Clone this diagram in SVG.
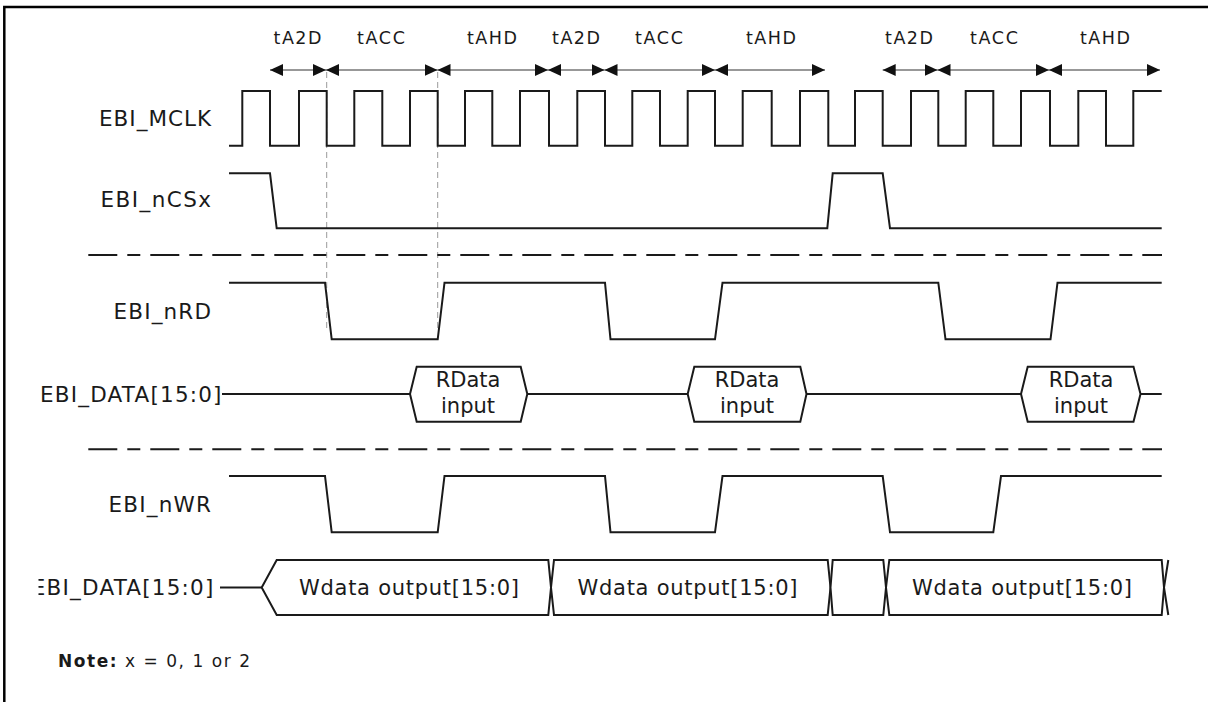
<svg xmlns="http://www.w3.org/2000/svg" width="1208" height="702" viewBox="0 0 1208 702">
<style>
.wave{fill:none;stroke:#1a1a1a;stroke-width:2;stroke-linejoin:miter}
.bus{fill:#fff;stroke:#1a1a1a;stroke-width:2}
.lbl{font-family:"DejaVu Sans",Verdana,sans-serif;font-size:21.5px;fill:#1a1a1a}
.tl{font-family:"DejaVu Sans",Verdana,sans-serif;font-size:17.5px;fill:#1a1a1a;text-anchor:middle}
.bt{font-family:"DejaVu Sans",Verdana,sans-serif;font-size:21px;fill:#1a1a1a;text-anchor:middle}
.arr{stroke:#333;stroke-width:1.2;fill:none;marker-start:url(#ah);marker-end:url(#ah)}
.vg{stroke:#9a9a9a;stroke-width:1;stroke-dasharray:6 4;fill:none}
.sep{stroke:#1a1a1a;stroke-width:2;stroke-dasharray:29 10 13 10;fill:none}
</style>
<defs>
<marker id="ah" markerUnits="userSpaceOnUse" markerWidth="14" markerHeight="14" refX="13" refY="6" orient="auto-start-reverse">
<path d="M0,0 L13,6 L0,12 z" fill="#111"/>
</marker>
<clipPath id="clipL"><rect x="38.5" y="560" width="200" height="60"/></clipPath>
</defs>
<rect x="0" y="0" width="1208" height="702" fill="#fff"/>
<rect x="4.3" y="7" width="1215" height="710" fill="none" stroke="#000" stroke-width="2.5"/>

<g id="connectors">
<path class="vg" d="M326.7,72 V332 M437.7,72 V332"/>
<path class="sep" d="M88.3,255 H1162"/>
<path class="sep" d="M88.3,449.3 H1162"/>
<line class="arr" x1="270" y1="70" x2="326" y2="70"/>
<line class="arr" x1="326" y1="70" x2="437.5" y2="70"/>
<line class="arr" x1="437.5" y1="70" x2="548" y2="70"/>
<line class="arr" x1="548" y1="70" x2="604.5" y2="70"/>
<line class="arr" x1="604.5" y1="70" x2="715" y2="70"/>
<line class="arr" x1="715" y1="70" x2="825" y2="70"/>
<line class="arr" x1="882.7" y1="70" x2="937.5" y2="70"/>
<line class="arr" x1="937.5" y1="70" x2="1049" y2="70"/>
<line class="arr" x1="1049" y1="70" x2="1160" y2="70"/>
</g>

<g id="timing-labels">
<text class="tl" x="297.5" y="44.3" textLength="48">tA2D</text>
<text class="tl" x="381" y="44.3" textLength="48">tACC</text>
<text class="tl" x="492" y="44.3" textLength="50">tAHD</text>
<text class="tl" x="576" y="44.3" textLength="48">tA2D</text>
<text class="tl" x="659" y="44.3" textLength="48">tACC</text>
<text class="tl" x="771" y="44.3" textLength="50">tAHD</text>
<text class="tl" x="909" y="44.3" textLength="48">tA2D</text>
<text class="tl" x="994" y="44.3" textLength="48">tACC</text>
<text class="tl" x="1105" y="44.3" textLength="50">tAHD</text>
</g>

<g id="EBI_MCLK">
<text class="lbl" x="211" y="126" text-anchor="end" textLength="112">EBI_MCLK</text>
<path class="wave" d="M229,145.7 H242.3 V91 H270 V145.7 H299 V91 H326.7 V145.7 H354.3 V91 H382.3 V145.7 H410 V91 H437.7 V145.7 H465 V91 H492.3 V145.7 H520 V91 H549 V145.7 H577.3 V91 H605 V145.7 H632.3 V91 H660 V145.7 H687.7 V91 H715 V145.7 H742.7 V91 H771.7 V145.7 H800 V91 H828.3 V145.7 H855 V91 H882.7 V145.7 H911 V91 H938.3 V145.7 H965.7 V91 H993.3 V145.7 H1021 V91 H1050 V145.7 H1078.3 V91 H1106 V145.7 H1133.3 V91 H1161.7"/>
</g>

<g id="EBI_nCSx">
<text class="lbl" x="211" y="207.3" text-anchor="end" textLength="110.5">EBI_nCSx</text>
<path class="wave" d="M229,173.3 H270 L276.7,228.3 H827.3 L832.7,173.3 H882.7 L890,228.3 H1161.7"/>
</g>

<g id="EBI_nRD">
<text class="lbl" x="211" y="319" text-anchor="end" textLength="97.5">EBI_nRD</text>
<path class="wave" d="M229,282.7 H325 L331.7,339.3 H437.7 L444.5,282.7 H605 L610.5,339.3 H715 L722.5,282.7 H938.3 L945.5,339.3 H1050.5 L1057.5,282.7 H1161.7"/>
</g>

<g id="EBI_DATA_read">
<text class="lbl" x="221.5" y="402" text-anchor="end" textLength="181.5">EBI_DATA[15:0]</text>
<path class="wave" d="M222,394 H410 M527.3,394 H687.7 M806.5,394 H1021 M1140.5,394 H1161.7"/>
<polygon class="bus" points="410,394 416.7,366.7 520.7,366.7 527.3,394 520.7,421.7 416.7,421.7"/>
<polygon class="bus" points="687.7,394 694.3,366.7 800.3,366.7 806.5,394 800.3,421.7 694.3,421.7"/>
<polygon class="bus" points="1021,394 1027.7,366.7 1133.5,366.7 1140.5,394 1133.5,421.7 1027.7,421.7"/>
<text class="bt" x="468" y="387.3">RData</text>
<text class="bt" x="468" y="413.3">input</text>
<text class="bt" x="747" y="387.3">RData</text>
<text class="bt" x="747" y="413.3">input</text>
<text class="bt" x="1081" y="387.3">RData</text>
<text class="bt" x="1081" y="413.3">input</text>
</g>

<g id="EBI_nWR">
<text class="lbl" x="211" y="511.7" text-anchor="end" textLength="102.5">EBI_nWR</text>
<path class="wave" d="M229,476 H325 L331.7,532.3 H437.7 L444.5,476 H605 L610.5,532.3 H715 L722.5,476 H882.7 L890,532.3 H993.3 L1001,476 H1161.7"/>
</g>

<g id="EBI_DATA_write">
<text class="lbl" x="213.3" y="595" text-anchor="end" textLength="181.5" clip-path="url(#clipL)">EBI_DATA[15:0]</text>
<path class="wave" d="M220,587.5 H261.7"/>
<polygon class="bus" points="261.7,587.5 276.7,560 548.3,560 551,587.5 548.3,615 276.7,615"/>
<polygon class="bus" points="551,587.5 554,560 827.7,560 830.5,587.5 827.7,615 554,615"/>
<polygon class="bus" points="830.5,587.5 832.7,560 883.3,560 886,587.5 883.3,615 832.7,615"/>
<polygon class="bus" points="886,587.5 889.3,560 1161.7,560 1164,587.5 1161.7,615 889.3,615"/>
<path class="wave" d="M1168.3,560 L1164,587.5 L1168.3,615"/>
<text class="bt" x="409" y="595" textLength="220">Wdata output[15:0]</text>
<text class="bt" x="687.5" y="595" textLength="220">Wdata output[15:0]</text>
<text class="bt" x="1022" y="595" textLength="220">Wdata output[15:0]</text>
</g>

<g id="note">
<text x="58" y="667" font-family="DejaVu Sans, Verdana, sans-serif" font-size="17" fill="#1a1a1a" textLength="192"><tspan font-weight="bold">Note:</tspan> x = 0, 1 or 2</text>
</g>
</svg>
